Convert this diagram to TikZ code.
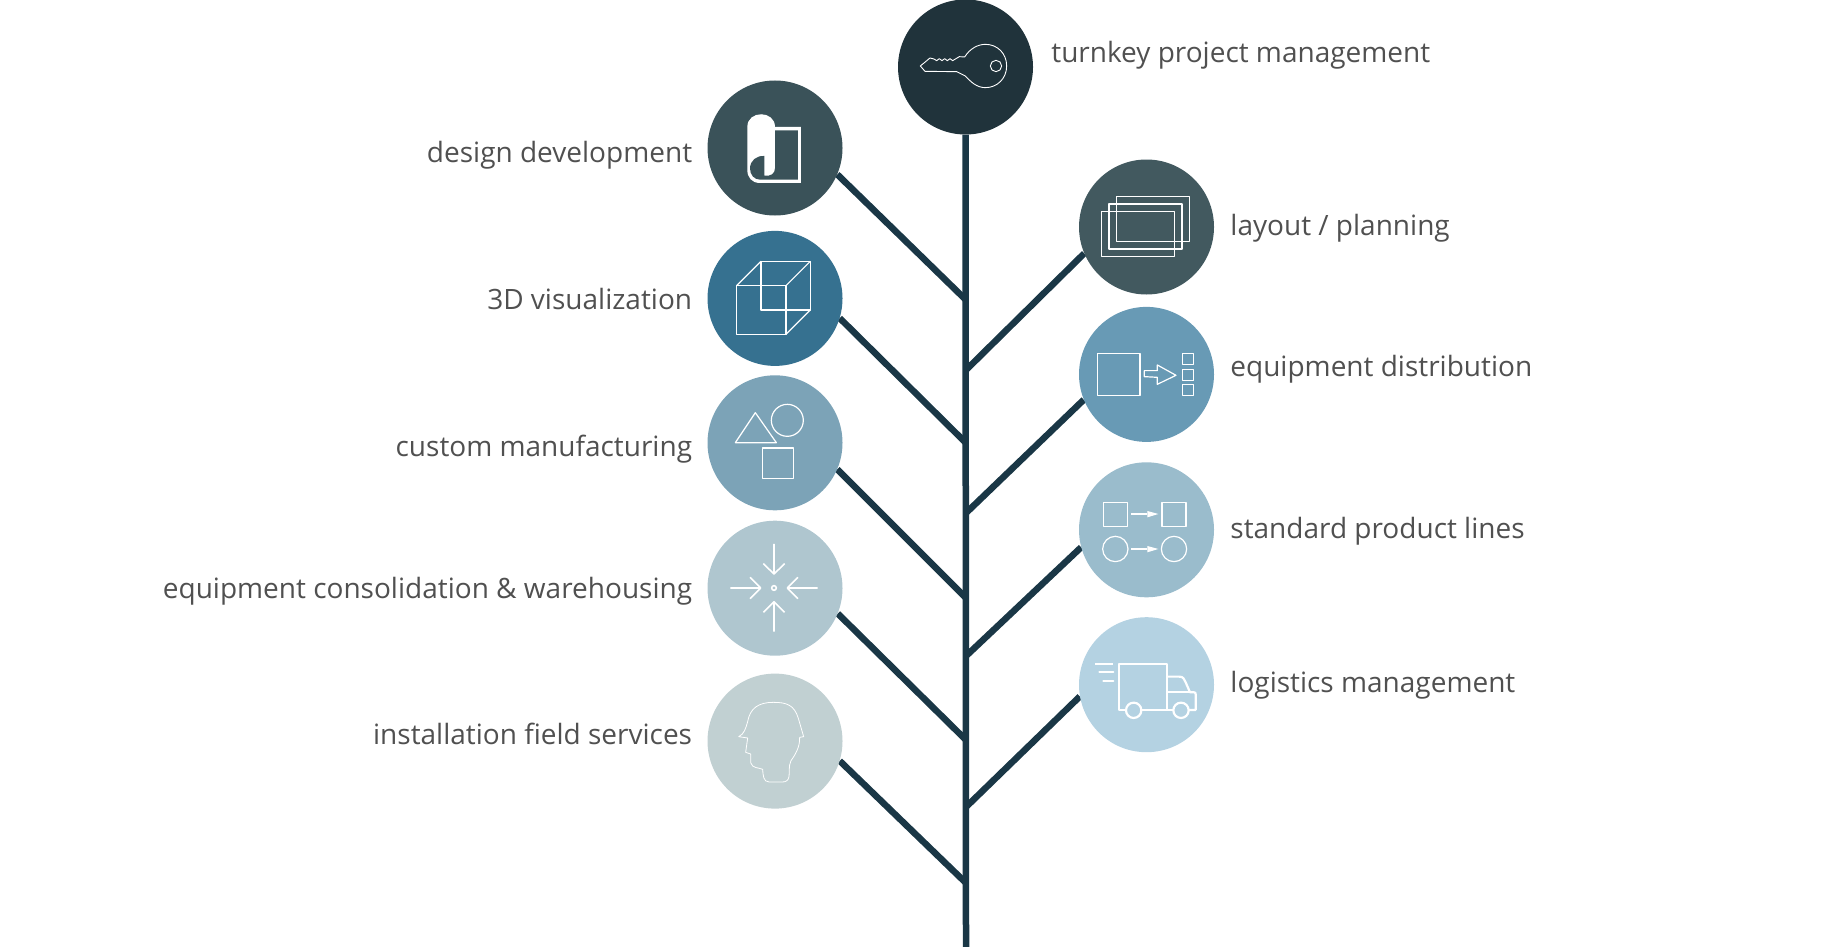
\documentclass[tikz,border=0pt]{standalone}
\usepackage{fontspec}
\setmainfont{Open Sans}
\usetikzlibrary{positioning, backgrounds}
\definecolor{trunkcolor}{RGB}{26, 55, 70}
\definecolor{keycolor}{RGB}{32, 51, 59}
\definecolor{designcolor}{RGB}{58, 82, 89}
\definecolor{vizcolor}{RGB}{54, 113, 144}
\definecolor{customcolor}{RGB}{124, 163, 183}
\definecolor{consolcolor}{RGB}{175, 198, 207}
\definecolor{fieldcolor}{RGB}{193, 208, 210}
\definecolor{layoutcolor}{RGB}{66, 89, 95}
\definecolor{distcolor}{RGB}{104, 154, 181}
\definecolor{linescolor}{RGB}{154, 188, 204}
\definecolor{logicolor}{RGB}{180, 210, 226}
\definecolor{textcolor}{RGB}{80, 80, 80}
\tikzset{
    % Circles
    basecircle/.style={circle, inner sep=0pt, minimum size=135pt},
    % Labels
    steplabel/.style={font=\fontsize{28}{32}\selectfont, text=textcolor, inner sep=0pt, text height=24pt, text depth=8pt},
    % Lines
    branch/.style={draw=trunkcolor, line width=6.5pt},
    iconline/.style={draw=white, line width=1.2pt, line join=round},
    % Icon coordinates are read off enlarged crops
    zoomed/.style 2 args={shift={(#1,#2)}, x=0.3333pt, y=-0.3333pt},
}
\begin{document}
\begin{tikzpicture}[x=1pt, y=-1pt]
\useasboundingbox (0,0) rectangle (1828,947);

% Left circles
\node (key) [basecircle, fill=keycolor] at (965.5,67) {};
\node (design) [basecircle, fill=designcolor] at (775,148) {};
\node (viz) [basecircle, fill=vizcolor, below=15pt of design] {};
\node (custom) [basecircle, fill=customcolor, below=9pt of viz] {};
\node (consol) [basecircle, fill=consolcolor, below=10pt of custom] {};
\node (field) [basecircle, fill=fieldcolor, below=17.5pt of consol] {};

% Right circles
\node (layout) [basecircle, fill=layoutcolor] at (1146.5,227) {};
\node (dist) [basecircle, fill=distcolor, below=12pt of layout] {};
\node (lines) [basecircle, fill=linescolor, below=20pt of dist] {};
\node (logi) [basecircle, fill=logicolor, below=19.5pt of lines] {};

% Labels
\node (lblkey) [steplabel, right=18pt of key, yshift=12pt] {turnkey project management};
\node (lbldesign) [steplabel, left=15pt of design, yshift=-6pt] {design development};
\node (lblviz) [steplabel, left=15pt of viz, yshift=-3pt] {3D visualization};
\node (lblcustom) [steplabel, left=15pt of custom, yshift=-6pt] {custom manufacturing};
\node (lblconsol) [steplabel, left=15pt of consol, yshift=-2pt] {equipment consolidation \& warehousing};
\node (lblfield) [steplabel, left=15pt of field, yshift=5pt] {installation field services};
\node (lbllayout) [steplabel, right=16pt of layout, yshift=0pt] {layout / planning};
\node (lbldist) [steplabel, right=16pt of dist, yshift=6pt] {equipment distribution};
\node (lbllines) [steplabel, right=16pt of lines, yshift=-1pt] {standard product lines};
\node (lbllogi) [steplabel, right=16pt of logi, yshift=0pt] {logistics management};

% Joints on the trunk
\coordinate (j1) at (966,300);
\coordinate (j2) at (966,443);
\coordinate (j3) at (966,598);
\coordinate (j4) at (966,740);
\coordinate (j5) at (966,883);
\coordinate (j6) at (966,370);
\coordinate (j7) at (966,513);
\coordinate (j8) at (966,656);
\coordinate (j9) at (966,807);
\coordinate (root) at (966,947);

% Trunk and branches
\begin{scope}[on background layer]
\draw[branch] (key) -- (root);
\draw[branch] (design.-23) -- (j1);
\draw[branch] (viz.-17) -- (j2);
\draw[branch] (custom.-23) -- (j3);
\draw[branch] (consol.-22) -- (j4);
\draw[branch] (field.-17) -- (j5);
\draw[branch] (layout.203) -- (j6);
\draw[branch] (dist.202) -- (j7);
\draw[branch] (lines.195) -- (j8);
\draw[branch] (logi.190) -- (j9);
\end{scope}

% Key
\begin{scope}[zoomed={880}{0}, iconline/.append style={line width=0.9pt}]
\draw[iconline] (121,198) -- (150,174) -- (162,177) -- (170,182) -- (178,176) -- (186,182) -- (194,176) -- (202,182) -- (210,176) -- (218,182) -- (238,170) -- (254,171)
    .. controls (270,145) and (295,133) .. (316,133) .. controls (352,133) and (380,160) .. (380,198)
    .. controls (380,235) and (352,263) .. (316,263) .. controls (290,263) and (272,245) .. (256,228)
    -- (230,215) -- (135,214) -- cycle;
\draw[iconline] (348,198) circle (17);
\end{scope}

% Design
\begin{scope}[zoomed={695}{70}]
\fill[white] (157,171) .. controls (157,120) and (240,120) .. (240,171) -- (318,171) -- (318,339) -- (195,339)
    .. controls (170,339) and (157,322) .. (157,300) -- cycle;
\fill[designcolor] (240,181) -- (309,181) -- (309,329) -- (195,329)
    .. controls (178,329) and (165,315) .. (165,295) .. controls (165,272) and (185,256) .. (208,258)
    -- (208,317) .. controls (228,320) and (240,310) .. (240,295) -- cycle;
\end{scope}

% Cube
\begin{scope}[zoomed={695}{70}]
\draw[iconline] (125,647) rectangle (273,793);
\draw[iconline] (198,574) rectangle (346,720);
\draw[iconline] (125,647) -- (198,574) (273,647) -- (346,574) (273,793) -- (346,720);
\end{scope}

% Shapes
\begin{scope}[zoomed={695}{370}]
\draw[iconline] (121,218) -- (181,128) -- (244,218) -- cycle;
\draw[iconline] (277,151) circle (48);
\draw[iconline] (202,234) rectangle (295,326);
\end{scope}

% Inward arrows
\begin{scope}[zoomed={695}{370}, iconline/.append style={line width=1.6pt}]
\draw[iconline] (237,654) circle (7);
\draw[iconline] (237,522) -- (237,612) (205,581) -- (237,612) -- (269,581);
\draw[iconline] (237,785) -- (237,695) (205,727) -- (237,695) -- (269,727);
\draw[iconline] (106,654) -- (197,654) (165,622) -- (197,654) -- (165,686);
\draw[iconline] (368,654) -- (277,654) (309,622) -- (277,654) -- (309,686);
\end{scope}

% Head
\begin{scope}[zoomed={695}{660}, iconline/.append style={line width=0.8pt}]
\draw[iconline] (131,230) .. controls (148,222) and (152,205) .. (158,185) .. controls (165,145) and (190,127) .. (235,127)
    .. controls (275,127) and (298,135) .. (310,175) -- (326,230) -- (314,232)
    .. controls (315,262) and (300,285) .. (288,302) .. controls (280,318) and (284,340) .. (282,350)
    .. controls (280,362) and (272,366) .. (262,366) -- (222,366) .. controls (205,366) and (204,345) .. (203,328)
    .. controls (190,322) and (172,326) .. (167,308) -- (167,282) -- (152,277) -- (158,234) -- cycle;
\end{scope}

% Sheets
\begin{scope}[zoomed={1070}{150}]
\draw[iconline] (95,184) rectangle (313,320);
\draw[iconline] (117,162) rectangle (336,297);
\draw[iconline] (140,140) rectangle (358,274);
\end{scope}

% Distribution
\begin{scope}[zoomed={1070}{150}]
\draw[iconline] (82,610) rectangle (210,737);
\draw[iconline] (337,611) rectangle (371,644);
\draw[iconline] (337,658) rectangle (371,691);
\draw[iconline] (337,703) rectangle (371,737);
\draw[iconline] (223,662) -- (262,662) -- (262,645) -- (318,676) -- (262,703) -- (262,682) -- (223,680) -- cycle;
\end{scope}

% Product lines
\begin{scope}[zoomed={1070}{450}]
\draw[iconline] (100,157) rectangle (172,229);
\draw[iconline] (276,157) rectangle (348,229);
\draw[iconline] (136,297) circle (38);
\draw[iconline] (312,297) circle (38);
\draw[iconline] (183,192) -- (232,192);
\fill[white] (232,183) -- (265,192) -- (232,202) -- cycle;
\draw[iconline] (183,297) -- (232,297);
\fill[white] (232,288) -- (265,297) -- (232,307) -- cycle;
\end{scope}

% Truck
\begin{scope}[zoomed={1070}{450}, iconline/.append style={line width=2.2pt}]
\draw[iconline] (168,780) -- (146,780) -- (146,641) -- (292,641) -- (292,780);
\draw[iconline] (215,780) -- (310,780);
\draw[iconline] (292,680) -- (328,680) .. controls (340,680) and (343,688) .. (347,697) -- (360,727) -- (372,727)
    .. controls (376,727) and (377,729) .. (377,733) -- (377,780) -- (357,780);
\draw[iconline] (292,727) -- (360,727);
\draw[iconline] (191,781) circle (23);
\draw[iconline] (333,781) circle (23);
\draw[iconline] (76,641) -- (130,641);
\draw[iconline, line cap=round] (88,666) -- (130,666);
\draw[iconline, line cap=round] (100,692) -- (130,692);
\end{scope}

\end{tikzpicture}
\end{document}
